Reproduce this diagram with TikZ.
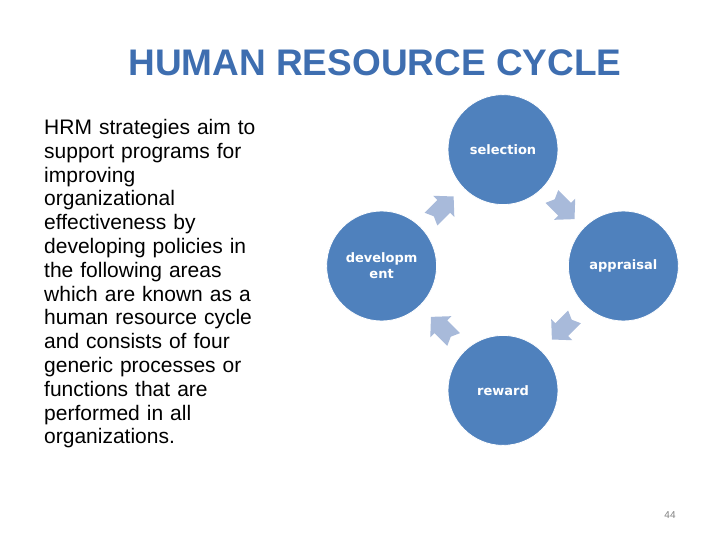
\documentclass[tikz,border=0pt]{standalone}
\usepackage{fontspec}
\setmainfont{Liberation Sans}
\newfontfamily\labelfont{DejaVu Sans}
\usepackage{xcolor}
\usepackage{tikz}
\usetikzlibrary{positioning, calc}
\definecolor{stageblue}{RGB}{79,129,189}
\definecolor{arrowblue}{RGB}{168,186,218}
\definecolor{titleblue}{RGB}{62,110,176}
\tikzset{
    cycle/.style={x=1pt, y=-1pt, node distance=60pt and 60pt},
    stage/.style={circle, fill=stageblue, draw=white, line width=0.8pt, minimum size=110pt,
        inner sep=0pt, align=center, text=white, font=\labelfont\bfseries\fontsize{13}{16}\selectfont},
    % chunky arrow between two stages, turned by hand
    cyclearrow/.style={fill=arrowblue},
    bodytext/.style={anchor=north west, inner sep=0pt, text width=240pt, align=left,
        font=\fontsize{21}{23.8}\selectfont},
    titletext/.style={inner sep=0pt, text=titleblue, font=\bfseries\fontsize{37}{40}\selectfont},
}
\begin{document}
\begin{tikzpicture}[cycle]
    \useasboundingbox (0,0) rectangle (720,540);
    \node[titletext] (title) at (375,63) {HUMAN RESOURCE CYCLE};
    \node[bodytext] (intro) at (44,119) {HRM strategies aim to\\ support programs for\\ improving\\ organizational\\ effectiveness by\\ developing policies in\\ the following areas\\ which are known as a\\ human resource cycle\\ and consists of four\\ generic processes or\\ functions that are\\ performed in all\\ organizations.};

    \coordinate (hub) at (503,266);
    \node[stage, above=61pt of hub]  (selection)   {selection};
    \node[stage, right=65pt of hub]  (appraisal)   {appraisal};
    \node[stage, below=69pt of hub]  (reward)      {reward};
    \node[stage, left=66pt of hub]   (development) {developm\\ent};

    \foreach \from/\to/\turn in {selection/appraisal/-45, appraisal/reward/-135,
        reward/development/135, development/selection/45}
        \fill[cyclearrow, shift={($(\from)!0.5!(\to)$)}, rotate=\turn]
            (-16,-9) -- (2,-9) -- (2,-15) -- (16,0) -- (2,15) -- (2,9) -- (-16,9) -- (-12,0) -- cycle;

    \node[text=gray, font=\fontsize{10}{12}\selectfont] (pagenum) at (670,515) {44};
\end{tikzpicture}
\end{document}
